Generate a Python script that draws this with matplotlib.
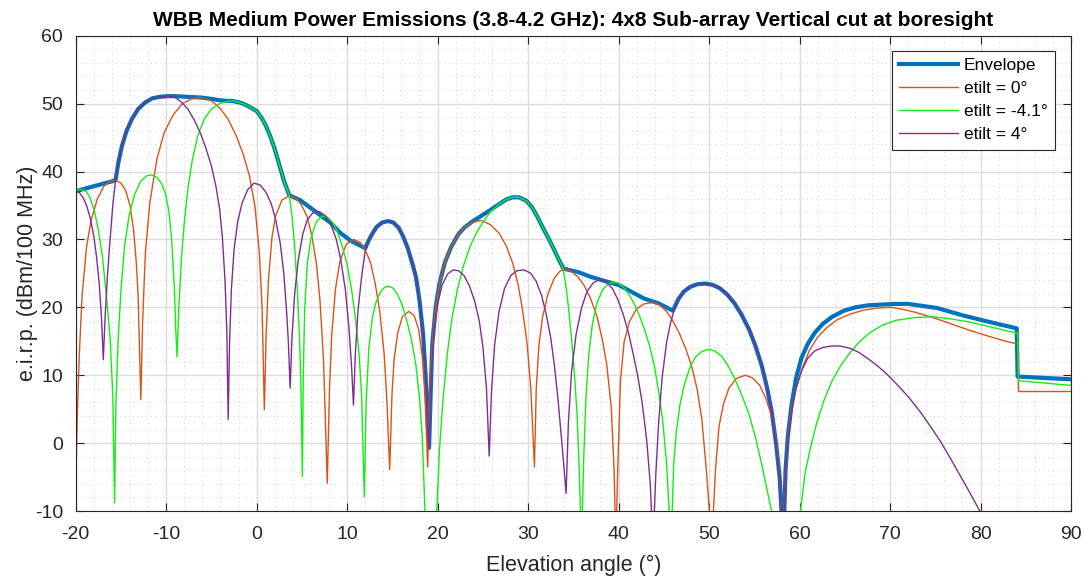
'''
redraws the vertical cut at boresight of the WBB medium power emissions (3.8-4.2 GHz) of a 4x8 sub-array: envelope plus three electrical tilts
'''
## Imports
import numpy as np
import matplotlib
matplotlib.use("Agg")
import matplotlib.pyplot as plt
from matplotlib.ticker import MultipleLocator

## values as (elevation angle [deg], e.i.r.p. [dBm/100 MHz])
## nulls that fall below the axis are given a value under -10, they get clipped anyway
envelope = [(-20, 37.1), (-17.8, 37.9), (-15.6, 38.7), (-15.3, 41.2), (-14.9, 43.7), (-14.4, 45.9),
            (-13.8, 47.7), (-13.1, 49.2), (-12.3, 50.2), (-11.5, 50.8), (-10.7, 51.0), (-9.8, 51.1),
            (-9.0, 51.1), (-7.8, 51.0), (-6.2, 50.9), (-5.0, 50.7), (-4.1, 50.5), (-3.3, 50.4),
            (-2.7, 50.4), (-2.0, 50.2), (-1.5, 50.0), (-0.9, 49.6), (-0.4, 49.2), (0.0, 48.9),
            (0.5, 48.0), (1.0, 46.8), (1.5, 45.2), (2.0, 43.3), (2.5, 41.0), (3.0, 38.7),
            (3.6, 36.5), (4.8, 35.8), (5.9, 34.7), (7.0, 33.6), (8.2, 32.4), (9.3, 30.9),
            (10.4, 29.8), (12.0, 28.7), (12.4, 29.9), (12.8, 30.9), (13.3, 31.9), (13.9, 32.5),
            (14.5, 32.7), (15.1, 32.5), (15.7, 31.7), (16.2, 30.4), (16.7, 28.7), (17.2, 26.5),
            (17.6, 24.5), (18.0, 21.0), (18.4, 16.0), (18.7, 9.3), (19.05, -0.7), (19.2, 6.0),
            (19.4, 14.5), (19.8, 20.2), (20.2, 23.5), (20.8, 26.6), (21.5, 28.9), (22.3, 30.8),
            (23.0, 31.8), (23.8, 32.6), (24.5, 33.2), (25.2, 33.8), (25.8, 34.3), (26.8, 35.2),
            (27.6, 35.9), (28.3, 36.2), (29.0, 36.2), (29.8, 35.7), (30.4, 34.8), (31.0, 33.4),
            (31.6, 31.8), (32.2, 30.3), (32.8, 28.7), (33.4, 27.0), (33.9, 25.7), (35.5, 25.2),
            (36.9, 24.5), (38.4, 23.9), (40.0, 23.3), (41.4, 22.3), (42.8, 21.3), (44.4, 20.6),
            (46.0, 19.5), (46.6, 21.2), (47.2, 22.3), (47.9, 23.0), (48.7, 23.4), (49.6, 23.5),
            (50.4, 23.3), (51.2, 22.8), (52.0, 21.9), (52.8, 20.6), (53.6, 18.9), (54.4, 16.8),
            (55.1, 14.4), (55.8, 11.5), (56.4, 8.2), (56.9, 4.8), (57.4, 0.0), (57.8, -5.0),
            (58.2, -15), (58.45, -4.0), (58.7, 1.0), (59.1, 5.5), (59.6, 9.5), (60.2, 12.5),
            (60.9, 14.6), (61.7, 16.3), (62.6, 17.6), (63.6, 18.6), (64.9, 19.5), (66.2, 20.0),
            (67.6, 20.3), (69.0, 20.4), (70.5, 20.5), (72.0, 20.5), (73.6, 20.2), (75.2, 19.9),
            (76.5, 19.4), (77.8, 18.9), (79.3, 18.4), (80.8, 17.9), (82.4, 17.4), (84.0, 16.9),
            (84.1, 9.8), (90, 9.4)]
etilt_0 = [(-20, 16.7), (-19.93, -2.5), (-19.8, 5.0), (-19.6, 13.0), (-19.3, 21.6), (-18.8, 28.9),
           (-18.3, 32.8), (-17.6, 36.0), (-16.9, 37.8), (-16.2, 38.6), (-15.6, 38.7), (-15.0, 38.3),
           (-14.5, 37.3), (-14.0, 35.0), (-13.6, 31.4), (-13.3, 26.5), (-13.1, 21.6), (-12.8, 6.4),
           (-12.6, 18.0), (-12.3, 28.0), (-11.8, 35.5), (-11.0, 42.0), (-10.2, 45.8), (-9.2, 48.4),
           (-8.2, 50.0), (-7.2, 50.7), (-6.2, 50.9), (-5.0, 50.4), (-4.1, 49.4), (-3.2, 47.8),
           (-2.3, 45.4), (-1.5, 42.6), (-0.8, 39.4), (-0.2, 35.0), (0.3, 28.0), (0.6, 20.0),
           (0.85, 4.9), (1.05, 16.0), (1.3, 24.0), (1.7, 30.4), (2.1, 33.5), (2.8, 35.8),
           (3.6, 36.4), (4.3, 36.1), (4.9, 35.2), (5.6, 33.3), (6.1, 30.5), (6.6, 26.5),
           (7.0, 21.0), (7.4, 12.0), (7.8, -5.9), (8.05, 8.0), (8.3, 16.0), (8.7, 22.6),
           (9.2, 26.8), (9.9, 29.3), (10.7, 30.0), (11.4, 29.6), (12.0, 28.5), (12.6, 26.5),
           (13.1, 23.5), (13.6, 19.5), (14.1, 13.0), (14.4, 6.0), (14.7, -3.9), (14.95, 7.0),
           (15.2, 12.5), (15.6, 16.3), (16.1, 18.6), (16.8, 19.4), (17.4, 18.8), (17.9, 16.8),
           (18.3, 12.8), (18.6, 7.0), (18.9, -3.5), (19.1, 6.0), (19.4, 14.5), (19.8, 20.2),
           (20.2, 23.5), (20.8, 26.6), (21.5, 28.9), (22.3, 30.8), (23.0, 31.8), (23.8, 32.5),
           (24.8, 32.8), (25.8, 32.2), (26.8, 30.9), (27.6, 29.0), (28.3, 26.5), (28.9, 23.3),
           (29.4, 19.5), (29.9, 14.5), (30.3, 8.0), (30.7, -3.5), (30.9, 8.0), (31.2, 14.5),
           (31.6, 18.6), (32.2, 22.0), (32.9, 24.3), (33.5, 25.3), (34.0, 25.6), (34.7, 25.4),
           (35.5, 24.5), (36.2, 23.2), (36.9, 21.3), (37.6, 18.7), (38.2, 15.3), (38.7, 11.5),
           (39.2, 5.0), (39.5, -4.0), (39.7, -15), (39.9, -4.0), (40.2, 9.0), (40.6, 14.8),
           (41.2, 17.9), (42.0, 19.8), (42.8, 20.5), (43.7, 20.7), (44.5, 20.4), (45.3, 19.4),
           (46.0, 18.0), (46.7, 16.2), (47.4, 14.0), (48.1, 11.2), (48.7, 7.8), (49.2, 3.5),
           (49.7, -4.0), (50.3, -15), (50.7, -4.0), (51.1, 2.5), (51.6, 5.8), (52.2, 8.1),
           (53.0, 9.5), (54.0, 10.0), (54.8, 9.6), (55.6, 8.5), (56.3, 6.5), (56.9, 4.0),
           (57.4, 0.5), (57.8, -4.5), (58.2, -15), (58.45, -4.0), (58.7, 1.0), (59.1, 5.0),
           (59.6, 8.0), (60.3, 11.0), (61.1, 13.7), (62.0, 15.6), (63.0, 17.0), (64.2, 18.2),
           (65.6, 19.0), (67.1, 19.6), (68.6, 19.9), (70.1, 20.0), (71.4, 19.7), (72.7, 19.3),
           (74.2, 18.7), (75.6, 18.1), (77.1, 17.4), (78.6, 16.7), (80.0, 16.1), (81.5, 15.5),
           (82.8, 15.0), (84.1, 14.6), (84.2, 7.6), (90, 7.6)]
etilt_m4_1 = [(-20, 37.1), (-19.6, 37.4), (-19.2, 37.3), (-18.8, 37.0), (-18.4, 36.1), (-17.9, 34.0),
              (-17.5, 31.4), (-17.0, 27.0), (-16.6, 21.6), (-16.2, 15.5), (-15.9, 7.0), (-15.7, -8.8),
              (-15.55, 6.0), (-15.3, 15.5), (-15.0, 22.5), (-14.6, 29.0), (-14.1, 33.5), (-13.5, 36.6),
              (-12.8, 38.6), (-12.1, 39.4), (-11.6, 39.5), (-11.0, 39.1), (-10.5, 38.2), (-10.1, 36.8),
              (-9.7, 34.2), (-9.4, 30.0), (-9.1, 23.0), (-8.95, 17.0), (-8.8, 12.7), (-8.6, 20.0),
              (-8.3, 27.5), (-8.0, 32.5), (-7.6, 37.5), (-7.1, 41.8), (-6.5, 45.3), (-5.8, 47.7),
              (-5.0, 49.2), (-4.1, 50.0), (-3.3, 50.3), (-2.7, 50.4), (-2.0, 50.2), (-1.5, 50.0),
              (-0.9, 49.6), (-0.4, 49.2), (0.0, 48.9), (0.5, 48.0), (1.0, 46.8), (1.5, 45.2),
              (2.0, 43.3), (2.5, 41.0), (3.0, 38.7), (3.6, 36.5), (3.9, 33.5), (4.2, 29.0),
              (4.5, 22.5), (4.75, 15.0), (4.9, 8.0), (5.05, -4.9), (5.15, 10.0), (5.3, 19.5),
              (5.6, 26.5), (6.0, 30.2), (6.6, 32.6), (7.2, 33.4), (7.8, 33.3), (8.4, 32.5),
              (8.9, 31.2), (9.5, 28.8), (10.0, 26.3), (10.5, 22.5), (10.9, 18.6), (11.3, 13.5),
              (11.6, 7.0), (11.9, -7.9), (12.1, 6.0), (12.4, 14.0), (12.8, 18.6), (13.2, 20.8),
              (13.7, 22.3), (14.2, 23.0), (14.6, 23.1), (15.1, 22.8), (15.6, 21.8), (16.1, 20.3),
              (16.6, 18.0), (17.1, 15.3), (17.6, 11.5), (18.0, 6.5), (18.3, 1.0), (18.6, -10),
              (19.25, -30), (19.9, -10), (20.2, -1.0), (20.6, 6.5), (21.1, 13.5), (21.6, 18.5),
              (22.2, 22.7), (22.9, 26.3), (23.6, 29.0), (24.3, 31.0), (25.0, 32.5), (25.8, 34.0),
              (26.8, 35.2), (27.6, 35.9), (28.3, 36.2), (29.0, 36.2), (29.8, 35.7), (30.4, 34.8),
              (31.0, 33.4), (31.6, 31.8), (32.2, 30.3), (32.8, 28.7), (33.4, 27.0), (33.85, 25.8),
              (34.2, 23.0), (34.5, 19.5), (34.8, 15.5), (35.1, 10.5), (35.4, 4.5), (35.6, -2.0),
              (35.9, -15), (36.15, -2.0), (36.4, 6.9), (36.7, 13.0), (37.1, 17.5), (37.6, 20.6),
              (38.2, 22.5), (38.8, 23.4), (39.3, 23.7), (39.9, 23.6), (40.5, 23.0), (41.1, 22.0),
              (41.7, 20.6), (42.3, 18.8), (42.9, 16.6), (43.5, 14.0), (44.0, 11.0), (44.5, 7.0),
              (44.9, 3.0), (45.3, -3.0), (45.8, -15), (46.1, -3.0), (46.4, 2.0), (46.8, 5.8),
              (47.3, 8.8), (47.9, 11.2), (48.5, 12.7), (49.2, 13.5), (49.9, 13.8), (50.6, 13.6),
              (51.4, 12.8), (52.1, 11.4), (52.9, 9.3), (53.6, 7.1), (54.4, 4.3), (55.1, 1.0),
              (55.8, -3.0), (56.4, -6.8), (56.9, -10), (58.5, -30), (60.1, -10), (60.6, -4.5),
              (61.2, -0.7), (61.9, 3.0), (62.7, 6.3), (63.6, 9.2), (64.5, 11.3), (65.5, 13.2),
              (66.6, 14.9), (67.8, 16.3), (69.2, 17.4), (70.7, 18.1), (72.7, 18.5), (74.8, 18.6),
              (76.7, 18.3), (78.5, 17.9), (80.2, 17.4), (81.8, 16.9), (83.0, 16.5), (84.1, 16.2),
              (84.2, 9.2), (90, 8.5)]
etilt_4 = [(-20, 37.1), (-19.6, 36.9), (-19.2, 36.2), (-18.8, 35.0), (-18.4, 33.2), (-18.0, 30.5),
           (-17.7, 27.5), (-17.4, 23.5), (-17.15, 18.5), (-16.95, 12.3), (-16.75, 18.5), (-16.5, 24.5),
           (-16.2, 30.0), (-15.9, 35.0), (-15.6, 38.7), (-15.3, 41.2), (-14.9, 43.7), (-14.4, 45.9),
           (-13.8, 47.7), (-13.1, 49.2), (-12.3, 50.2), (-11.5, 50.8), (-10.7, 51.0), (-9.8, 51.1),
           (-9.0, 50.9), (-8.3, 50.2), (-7.6, 49.2), (-6.9, 47.6), (-6.2, 45.6), (-5.6, 43.4),
           (-5.0, 40.8), (-4.5, 37.8), (-4.1, 34.5), (-3.8, 30.5), (-3.5, 24.0), (-3.3, 16.7),
           (-3.15, 3.5), (-3.0, 14.5), (-2.8, 22.5), (-2.5, 28.5), (-2.1, 32.6), (-1.6, 35.4),
           (-1.0, 37.3), (-0.3, 38.3), (0.4, 38.0), (1.0, 37.0), (1.6, 35.3), (2.1, 32.9),
           (2.6, 29.5), (3.0, 25.0), (3.3, 19.5), (3.5, 15.0), (3.7, 8.1), (3.9, 15.5),
           (4.2, 22.0), (4.6, 27.0), (5.1, 30.8), (5.6, 32.9), (6.2, 33.9), (6.9, 34.1),
           (7.6, 33.5), (8.2, 32.2), (8.8, 30.0), (9.3, 27.0), (9.8, 22.6), (10.2, 17.0),
           (10.5, 11.0), (10.7, 5.6), (10.9, 13.0), (11.2, 19.5), (11.6, 24.5), (12.0, 28.4),
           (12.4, 29.9), (12.8, 30.9), (13.3, 31.9), (13.9, 32.5), (14.5, 32.7), (15.1, 32.5),
           (15.7, 31.7), (16.2, 30.4), (16.7, 28.7), (17.2, 26.5), (17.6, 24.5), (18.0, 21.0),
           (18.4, 16.0), (18.7, 9.3), (19.05, -0.7), (19.3, 10.0), (19.6, 16.5), (20.0, 20.5),
           (20.5, 23.3), (21.1, 24.9), (21.7, 25.5), (22.3, 25.4), (22.9, 24.7), (23.5, 23.2),
           (24.1, 20.9), (24.6, 18.0), (25.0, 14.2), (25.4, 8.0), (25.7, -1.9), (25.95, 7.5),
           (26.3, 14.5), (26.8, 19.5), (27.4, 22.8), (28.1, 24.7), (28.8, 25.4), (29.6, 25.5),
           (30.3, 25.0), (30.9, 23.8), (31.5, 21.7), (32.0, 19.0), (32.5, 15.5), (32.9, 11.5),
           (33.3, 6.5), (33.7, 0.5), (34.2, -7.4), (34.45, 3.0), (34.8, 10.5), (35.3, 16.0),
           (35.9, 19.9), (36.5, 22.3), (37.2, 23.6), (37.9, 24.1), (38.6, 23.8), (39.3, 22.8),
           (39.9, 21.2), (40.5, 19.0), (41.1, 16.2), (41.6, 13.2), (42.1, 10.0), (42.6, 6.0),
           (43.1, 0.5), (43.5, -6.0), (43.8, -15), (44.1, -5.0), (44.4, 2.5), (44.8, 9.5),
           (45.3, 14.8), (45.7, 17.5), (46.1, 19.4), (46.6, 21.2), (47.2, 22.3), (47.9, 23.0),
           (48.7, 23.4), (49.6, 23.5), (50.4, 23.3), (51.2, 22.8), (52.0, 21.9), (52.8, 20.6),
           (53.6, 18.9), (54.4, 16.8), (55.1, 14.4), (55.8, 11.5), (56.4, 8.2), (56.9, 4.8),
           (57.4, 0.0), (57.8, -5.0), (58.2, -15), (58.45, -4.0), (58.7, 0.5), (59.1, 4.5),
           (59.6, 8.0), (60.2, 10.6), (60.9, 12.5), (61.7, 13.6), (62.6, 14.1), (63.5, 14.3),
           (64.5, 14.3), (65.5, 14.0), (66.5, 13.4), (67.5, 12.5), (68.6, 11.4), (69.7, 10.1),
           (70.8, 8.6), (72.1, 6.7), (73.4, 4.5), (74.5, 2.4), (75.6, 0.2), (76.7, -2.3),
           (77.8, -4.9), (78.9, -7.5), (80.0, -10.2), (80.5, -12)]

## legend labels, same order as the curves
labels = ["Envelope", "etilt = 0\u00b0", "etilt = -4.1\u00b0", "etilt = 4\u00b0"]

def style_axes(ax:object) -> None:
    '''
    gives the axes the look of a matlab figure: box, inward ticks on all sides, major and minor grid
    Parameters:
        - ax: subplot to style [object]
    Returns:
        - None
    '''
    ## limits and ticks
    ax.set_xlim(-20, 90)
    ax.set_ylim(-10, 60)
    ax.xaxis.set_major_locator(MultipleLocator(10))
    ax.yaxis.set_major_locator(MultipleLocator(10))
    ax.xaxis.set_minor_locator(MultipleLocator(2))
    ax.yaxis.set_minor_locator(MultipleLocator(2))
    ax.tick_params(which='major', direction='in', top=True, right=True, length=6, width=0.8,
                   color='#262626', labelsize=14, labelcolor='#262626')
    ax.tick_params(axis='x', which='major', pad=11)
    ax.tick_params(axis='y', which='major', pad=9)
    ax.tick_params(which='minor', direction='in', top=True, right=True, length=0)
    ## grid lines, minor ones sparse dotted like matlab
    ax.grid(which='major', color='#dcdcdc', linewidth=1.0, linestyle='-')
    ax.grid(which='minor', color='#cfcfcf', linewidth=0.7, linestyle=(0, (1, 3.5)))
    ax.set_axisbelow(True)
    for spine in ax.spines.values():
        spine.set_color('#262626')
        spine.set_linewidth(0.8)

def plot_cut(path:str) -> None:
    '''
    makes the plot with the envelope and the three tilt curves and stores it
    Parameters:
        - path: file name of the result [String]
    Returns:
        - None
    '''
    plt.rcParams['font.family'] = ['Liberation Sans', 'DejaVu Sans']
    plt.rcParams['axes.unicode_minus'] = False
    fig = plt.figure(figsize=(10.86, 5.76), dpi=100)
    ax = fig.add_axes([0.0697, 0.1128, 0.9165, 0.8252])
    style_axes(ax)
    ## go through the curves, envelope first so it sits underneath
    curves = [envelope, etilt_0, etilt_m4_1, etilt_4]
    colors = ['#0072BD', '#D95319', '#12EE12', '#7E2F8E']
    widths = [3.0, 1.0, 1.0, 1.0]
    for points, label, color, lw in zip(curves, labels, colors, widths):
        data = np.array(points)
        ax.plot(data[:, 0], data[:, 1], color=color, linewidth=lw, label=label)
    ## labels, title, legend
    ax.set_xlabel('Elevation angle (\u00b0)', fontsize=15.5, color='#262626', labelpad=8)
    ax.set_ylabel('e.i.r.p. (dBm/100 MHz)', fontsize=15.5, color='#262626', labelpad=-2)
    ax.set_title('WBB Medium Power Emissions (3.8-4.2 GHz): 4x8 Sub-array Vertical cut at boresight',
                 fontsize=15, fontweight='bold', pad=7)
    leg = ax.legend(loc='upper right', bbox_to_anchor=(0.984, 0.968), borderaxespad=0, fontsize=12.5,
                    fancybox=False, framealpha=1, edgecolor='#262626', handlelength=3.4,
                    handletextpad=0.35, labelspacing=0.45, borderpad=0.42)
    leg.get_frame().set_linewidth(0.8)
    ## save plot
    fig.savefig(path, dpi=100)
    print("[INFO] The plot was successfully stored to: " + path)

def main() -> None:
    '''
    main function, makes and saves plot
    '''
    plot_cut('out.png')

if __name__ == "__main__":
    main()
